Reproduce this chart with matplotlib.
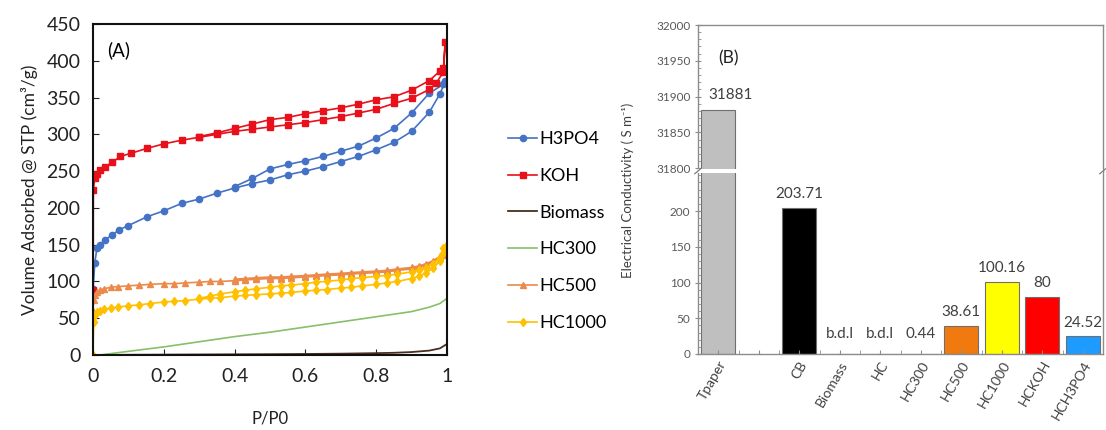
import matplotlib
matplotlib.use('Agg')
import matplotlib.pyplot as plt
import numpy as np
from matplotlib.ticker import MultipleLocator, FuncFormatter

plt.rcParams['font.family'] = ['Lato', 'DejaVu Sans']

# ---- (A) N2 isotherms: adsorption branch then desorption branch ----
koh_p_ads = [0.0005, 0.001, 0.005, 0.01, 0.02, 0.035, 0.055, 0.077, 0.106, 0.153, 0.2, 0.25, 0.3, 0.35, 0.4,
             0.45, 0.5, 0.55, 0.6, 0.65, 0.7, 0.75, 0.8, 0.85, 0.9, 0.95, 0.97, 0.99, 0.995]
koh_v_ads = [88, 225, 240, 246, 251, 256, 262, 270, 274, 281, 287, 292, 296, 300, 304,
             307, 310, 313, 316, 320, 324, 329, 334, 342, 349, 361, 370, 385, 426]
koh_p_des = [0.99, 0.98, 0.95, 0.9, 0.85, 0.8, 0.75, 0.7, 0.65, 0.6, 0.55, 0.5, 0.45, 0.4, 0.35, 0.3]
koh_v_des = [390, 386, 373, 360, 351, 347, 341, 336, 332, 328, 323, 320, 314, 308, 302, 297]

h3po4_p_ads = [0.0005, 0.005, 0.011, 0.02, 0.035, 0.054, 0.073, 0.1, 0.153, 0.2, 0.25, 0.3, 0.35, 0.4,
               0.45, 0.5, 0.55, 0.6, 0.65, 0.7, 0.75, 0.8, 0.85, 0.9, 0.95, 0.98, 0.995]
h3po4_v_ads = [90, 125, 145, 150, 157, 163, 170, 176, 188, 196, 206, 212, 220, 227,
               233, 238, 245, 250, 256, 263, 270, 279, 289, 304, 330, 355, 372]
h3po4_p_des = [0.99, 0.95, 0.9, 0.85, 0.8, 0.75, 0.7, 0.65, 0.6, 0.55, 0.5, 0.45, 0.4]
h3po4_v_des = [368, 356, 329, 308, 295, 284, 277, 270, 264, 259, 253, 240, 229]

biomass_p = [0, 0.1, 0.2, 0.3, 0.4, 0.5, 0.6, 0.7, 0.8, 0.85, 0.9, 0.95, 0.98, 1.0]
biomass_v = [0, 0.3, 0.5, 0.7, 0.9, 1.1, 1.4, 1.8, 2.5, 3, 4, 6, 9, 15]

hc300_p = [0.02, 0.1, 0.2, 0.3, 0.4, 0.5, 0.6, 0.7, 0.8, 0.9, 0.95, 0.98, 1.0]
hc300_v = [0, 5, 11, 18, 25, 31, 38, 45, 52, 59, 65, 70, 77]

hc_p_ads = [0, 0.002, 0.005, 0.01, 0.02, 0.03, 0.05, 0.07, 0.1, 0.13, 0.16, 0.2, 0.23, 0.26, 0.3,
            0.33, 0.36, 0.4, 0.43, 0.46, 0.5, 0.53, 0.56, 0.6, 0.63, 0.66, 0.7, 0.73, 0.76, 0.8,
            0.83, 0.86, 0.9, 0.92, 0.94, 0.96, 0.98, 0.99, 1.0]
hc500_v_ads = [60, 75, 81, 85, 88, 90, 92, 93, 94, 95, 96, 97, 97, 98, 99,
               100, 100, 101, 102, 103, 104, 104, 105, 106, 107, 108, 109, 110, 111, 112,
               113, 115, 117, 119, 122, 126, 132, 136, 140]
hc500_p_des = [0.99, 0.98, 0.96, 0.94, 0.92, 0.9, 0.86, 0.83, 0.8, 0.76, 0.73, 0.7, 0.66, 0.63,
               0.6, 0.56, 0.53, 0.5, 0.46, 0.43, 0.4]
hc500_v_des = [138, 134, 128, 124, 121, 119, 117, 115, 114, 113, 112, 111, 110, 109,
               108, 107, 106, 106, 105, 104, 103]

hc1000_v_ads = [0, 45, 55, 58, 60, 62, 64, 65, 67, 68, 70, 72, 73, 74, 76,
                77, 78, 80, 81, 82, 83, 84, 85, 87, 88, 89, 91, 92, 94, 96,
                98, 100, 104, 107, 111, 118, 128, 138, 150]
hc1000_p_des = [0.99, 0.98, 0.96, 0.94, 0.92, 0.9, 0.86, 0.83, 0.8, 0.76, 0.73, 0.7, 0.66, 0.63,
                0.6, 0.56, 0.53, 0.5, 0.46, 0.43, 0.4, 0.36, 0.33, 0.3]
hc1000_v_des = [145, 132, 124, 118, 115, 113, 110, 108, 107, 105, 104, 102, 100, 99,
                97, 95, 94, 92, 90, 88, 86, 83, 80, 77]

# ---- (B) electrical conductivity ----
categories = ['Tpaper', '', 'CB', 'Biomass', 'HC', 'HC300', 'HC500', 'HC1000', 'HCKOH', 'HCH3PO4']
conductivity = [31881, np.nan, 203.71, 0, 0, 0.44, 38.61, 100.16, 80, 24.52]
bar_labels = ['31881', '', '203.71', 'b.d.l', 'b.d.l', '0.44', '38.61', '100.16', '80', '24.52']
bar_colors = ['#bfbfbf', 'white', '#000000', '#bfbfbf', '#bfbfbf', '#1e9bff', '#f07a10', '#ffff00', '#ff0000', '#1e9bff']

W, H = 1106, 430
fig = plt.figure(figsize=(W / 100, H / 100), dpi=100)

# ===== panel A =====
ax = fig.add_axes([93 / W, 1 - 355 / H, (447 - 93) / W, (355 - 24) / H])
ax.plot(h3po4_p_ads + h3po4_p_des, h3po4_v_ads + h3po4_v_des, '-o', color='#4472c4', ms=4.5, lw=1.2, label='H3PO4')
ax.plot(koh_p_ads + koh_p_des, koh_v_ads + koh_v_des, '-s', color='#e8101a', ms=4.5, lw=1.2, label='KOH')
ax.plot(biomass_p, biomass_v, '-', color='#4a2e22', lw=1.3, label='Biomass')
ax.plot(hc300_p, hc300_v, '-', color='#86c06a', lw=1.2, label='HC300')
ax.plot(hc_p_ads + hc500_p_des, hc500_v_ads + hc500_v_des, '-^', color='#eb8a4a', ms=4.5, lw=1.2, label='HC500')
ax.plot(hc_p_ads + hc1000_p_des, hc1000_v_ads + hc1000_v_des, '-d', color='#ffc000', ms=4.5, lw=1.2, label='HC1000')

ax.set_xlim(0, 1)
ax.set_ylim(0, 450)
ax.xaxis.set_major_locator(MultipleLocator(0.2))
ax.yaxis.set_major_locator(MultipleLocator(50))
ax.xaxis.set_major_formatter(FuncFormatter(lambda v, p: '%g' % round(v, 2)))
ax.tick_params(direction='in', labelsize=14, length=4, pad=9, colors='#222222')
for s in ax.spines.values():
    s.set_linewidth(1.5)
    s.set_color('#111111')
ax.set_ylabel('Volume Adsorbed @ STP (cm³/g)', fontsize=12.5, color='#222222', labelpad=6)
ax.set_xlabel('P/P0', fontsize=12, color='#222222', labelpad=19)
ax.text(0.04, 0.92, '(A)', transform=ax.transAxes, fontsize=13.5, va='center')
ax.legend(loc='center left', bbox_to_anchor=(492 / W, 1 - 231 / H), bbox_transform=fig.transFigure,
          frameon=False, fontsize=13, handlelength=1.6, labelspacing=1.15, handletextpad=0.15)

# ===== panel B (broken y axis) =====
ax_t = fig.add_axes([698 / W, 1 - 171 / H, 405 / W, (171 - 25) / H])
ax_b = fig.add_axes([698 / W, 1 - 354 / H, 405 / W, (354 - 171) / H])
x = np.arange(len(categories))
for a in (ax_t, ax_b):
    a.bar(x, conductivity, width=0.83, color=bar_colors, edgecolor='#6f6f6f', linewidth=0.8)
    a.set_xlim(-0.5, len(categories) - 0.5)
    for s in a.spines.values():
        s.set_color('#8c8c8c')
        s.set_linewidth(1.0)
    a.tick_params(axis='y', which='major', direction='inout', length=4, labelsize=8.5, labelcolor='#595959', color='#8c8c8c')
    a.tick_params(axis='y', which='minor', direction='in', length=2.5, color='#8c8c8c')

ax_t.set_ylim(31796, 32000)
ax_t.yaxis.set_major_locator(MultipleLocator(50))
ax_t.yaxis.set_minor_locator(MultipleLocator(10))
ax_t.spines['bottom'].set_visible(False)
ax_t.set_xticks([])

ax_b.set_ylim(0, 256)
ax_b.yaxis.set_major_locator(MultipleLocator(50))
ax_b.yaxis.set_minor_locator(MultipleLocator(10))
ax_b.set_yticks([0, 50, 100, 150, 200])
ax_b.spines['top'].set_visible(False)
ax_b.set_xticks(x)
ax_b.set_xticklabels(categories, rotation=60, ha='right', rotation_mode='anchor', fontsize=10, color='#404040')
ax_b.set_xticks(np.arange(-0.5, len(categories), 0.5), minor=True)
ax_b.tick_params(axis='x', which='both', direction='in', length=3, color='#8c8c8c')

# white gap through the tall bar and break marks on the spines
ax_t.axhspan(31796, 31799, color='white', zorder=10, lw=0)
ax_b.axhspan(253, 256, color='white', zorder=10, lw=0)
for xa in (0, 1):
    ax_b.plot([xa - 0.008, xa + 0.008], [0.985, 1.015], transform=ax_b.transAxes, color='#7f7f7f', lw=0.9, clip_on=False, zorder=11)

for xi, v, lab in zip(x, conductivity, bar_labels):
    if not lab:
        continue
    if v > 1000:
        ax_t.annotate(lab, (xi + 0.3, v), xytext=(0, 6), textcoords='offset points', ha='center', va='bottom',
                      fontsize=11, color='#404040')
    else:
        off = 9 if lab in ('b.d.l', '0.44') else 5
        ax_b.annotate(lab, (xi, v), xytext=(0, off), textcoords='offset points', ha='center', va='bottom',
                      fontsize=11, color='#404040')

ax_t.text(0.05, 0.77, '(B)', transform=ax_t.transAxes, fontsize=12.5, va='center', color='#222222')
fig.text(628 / W, 1 - 190 / H, 'Electrical Conductivity ( S m⁻¹)', rotation=90, ha='center', va='center',
         fontsize=9.5, color='#404040')

fig.savefig('out.png', dpi=100)
